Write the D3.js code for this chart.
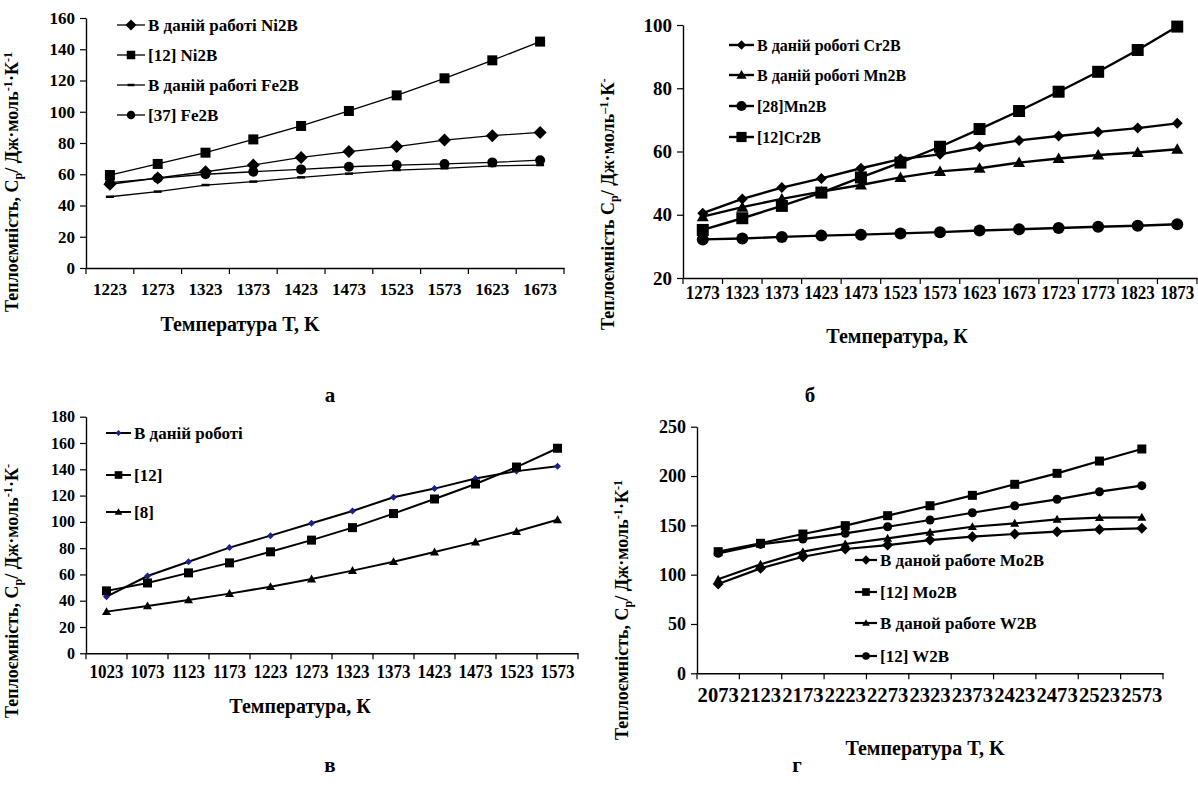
<!DOCTYPE html>
<html>
<head>
<meta charset="utf-8">
<script src="https://cdn.jsdelivr.net/npm/d3@7"></script>
<style>
  body { margin: 0; background: #fff; }
  text { font-family: "Liberation Serif", "Times New Roman", serif; font-weight: bold; fill: #000; }
</style>
</head>
<body>
<svg id="chart" width="1198" height="796"></svg>
<script>
// ---- panel а : Ni2B / Fe2B
const tempA = ["1223","1273","1323","1373","1423","1473","1523","1573","1623","1673"];
const ni2bThisWork = [53.6, 57.6, 61.6, 65.9, 70.8, 74.5, 77.7, 81.9, 84.7, 86.8];
const ni2bRef12    = [59.5, 66.6, 73.8, 82.3, 90.9, 100.5, 110.5, 121.4, 132.9, 144.9];
const fe2bThisWork = [45.6, 48.9, 53.1, 55.3, 58.0, 60.4, 62.7, 63.8, 65.3, 65.9];
const fe2bRef37    = [54.6, 57.4, 60.0, 61.6, 63.1, 64.8, 65.9, 66.6, 67.6, 69.0];
const ticksA = [0, 20, 40, 60, 80, 100, 120, 140, 160];

// ---- panel б : Cr2B / Mn2B
const tempB = ["1273","1323","1373","1423","1473","1523","1573","1623","1673","1723","1773","1823","1873"];
const cr2bThisWork = [40.5, 45.0, 48.6, 51.5, 54.7, 57.6, 59.1, 61.5, 63.5, 64.9, 66.2, 67.4, 68.9];
const mn2bThisWork = [39.4, 42.4, 45.0, 47.3, 49.4, 51.8, 53.7, 54.7, 56.5, 57.8, 58.9, 59.7, 60.7];
const mn2bRef28    = [32.2, 32.5, 33.0, 33.4, 33.7, 34.1, 34.5, 35.0, 35.4, 35.8, 36.2, 36.5, 37.0];
const cr2bRef12    = [35.2, 38.9, 42.8, 47.0, 51.8, 56.5, 61.5, 67.1, 72.8, 78.9, 85.2, 92.1, 99.5];
const ticksB = [20, 40, 60, 80, 100];

// ---- panel в
const tempC = ["1023","1073","1123","1173","1223","1273","1323","1373","1423","1473","1523","1573"];
const cThisWork = [43.1, 58.8, 69.7, 80.4, 89.5, 98.9, 108.3, 118.7, 125.3, 133.0, 138.6, 142.3];
const cRef12    = [47.5, 53.5, 61.2, 68.8, 77.2, 86.1, 95.6, 106.3, 117.4, 128.8, 141.7, 156.0];
const cRef8     = [31.7, 36.0, 40.6, 45.4, 50.7, 56.5, 62.9, 69.7, 77.0, 84.6, 92.6, 101.6];
const ticksC = [0, 20, 40, 60, 80, 100, 120, 140, 160, 180];

// ---- panel г : Mo2B / W2B
const tempD = ["2073","2123","2173","2223","2273","2323","2373","2423","2473","2523","2573"];
const mo2bThisWork = [90.5, 106.4, 118.2, 126.0, 130.0, 135.1, 138.5, 141.2, 143.6, 145.9, 147.0];
const mo2bRef12    = [123.3, 131.8, 141.2, 149.7, 159.8, 169.9, 180.4, 191.6, 202.7, 215.2, 227.4];
const w2bThisWork  = [95.3, 110.5, 123.3, 131.1, 136.8, 142.9, 148.6, 152.0, 156.1, 157.8, 158.1];
const w2bRef12     = [121.6, 130.7, 136.1, 141.9, 148.6, 155.4, 162.8, 169.9, 176.4, 184.1, 190.2];
const ticksD = [0, 50, 100, 150, 200, 250];

const svg = d3.select("#chart");
svg.append("rect").attr("width", 1198).attr("height", 796).attr("fill", "#fff");

// draws one marker of the given type centred on (cx, cy)
function drawMarker(g, type, cx, cy, s, color) {
  if (type === "diamond") {
    g.append("path").attr("d", `M${cx},${cy - s}L${cx + s},${cy}L${cx},${cy + s}L${cx - s},${cy}Z`).attr("fill", color);
  } else if (type === "square") {
    g.append("rect").attr("x", cx - s).attr("y", cy - s).attr("width", 2 * s).attr("height", 2 * s).attr("fill", color);
  } else if (type === "triangle") {
    g.append("path").attr("d", `M${cx},${cy - s}L${cx + s},${cy + s * 0.75}L${cx - s},${cy + s * 0.75}Z`).attr("fill", color);
  } else if (type === "circle") {
    g.append("circle").attr("cx", cx).attr("cy", cy).attr("r", s).attr("fill", color);
  } else if (type === "dash") {
    g.append("line").attr("x1", cx - s).attr("x2", cx + s).attr("y1", cy).attr("y2", cy)
      .attr("stroke", color).attr("stroke-width", 2.5);
  }
}

// rotated y title with sub/superscripts
function yTitle(g, cx, bottom, size, parts) {
  const t = g.append("text")
    .attr("transform", `translate(${cx},${bottom}) rotate(-90)`)
    .attr("dy", "0.35em")
    .style("font-size", size + "px");
  let shift = 0;
  parts.forEach(([str, kind]) => {
    const target = kind === "sub" ? 4 : kind === "sup" ? -6 : 0;
    t.append("tspan")
      .attr("dy", target - shift)
      .style("font-size", kind ? (size * 0.68) + "px" : null)
      .text(str);
    shift = target;
  });
}

function drawPanel(p) {
  const g = svg.append("g");
  const x = d3.scaleBand().domain(p.cats).range([p.x0, p.x1]);
  const y = d3.scaleLinear().domain(p.yDomain).range([p.yBottom, p.yTop]);

  // x axis: labels centred in bands, tick marks at band edges
  const xa = g.append("g").attr("transform", `translate(0,${p.yBottom})`)
    .call(d3.axisBottom(x).tickSize(0).tickPadding(p.xPad));
  xa.select(".domain").attr("stroke", "#000").attr("stroke-width", 1.4);
  xa.selectAll("text").style("font-size", p.xFont + "px")
    .attr("transform", `scale(${p.xScale},1)`);
  const edges = p.cats.map(c => x(c)).concat([p.x1]);
  g.selectAll(null).data(edges).enter().append("line")
    .attr("x1", d => d).attr("x2", d => d)
    .attr("y1", p.yBottom).attr("y2", p.yBottom + 6)
    .attr("stroke", "#000").attr("stroke-width", 1.2);

  // y axis
  const ya = g.append("g").attr("transform", `translate(${p.x0},0)`)
    .call(d3.axisLeft(y).tickValues(p.yTicks).tickSize(6).tickSizeOuter(0).tickPadding(5));
  ya.select(".domain").attr("stroke", "#000").attr("stroke-width", 1.4);
  ya.selectAll("line").attr("stroke", "#000").attr("stroke-width", 1.2);
  ya.selectAll("text").style("font-size", p.yFont + "px");

  // series
  const line = d3.line().x((d, i) => x(p.cats[i]) + x.bandwidth() / 2).y(d => y(d));
  p.series.forEach(s => {
    g.append("path").datum(s.values).attr("d", line)
      .attr("fill", "none").attr("stroke", "#000").attr("stroke-width", p.lineW);
    s.values.forEach((v, i) => drawMarker(g, s.marker, x(p.cats[i]) + x.bandwidth() / 2, y(v), s.size, s.color || "#000"));
  });

  // legend
  p.series.forEach((s, i) => {
    const ly = p.legend.rows[i];
    g.append("line").attr("x1", p.legend.x).attr("x2", p.legend.x + p.legend.len)
      .attr("y1", ly).attr("y2", ly).attr("stroke", "#000").attr("stroke-width", p.lineW);
    drawMarker(g, s.marker, p.legend.x + p.legend.len / 2, ly, s.size * 0.85, s.color || "#000");
    g.append("text").attr("x", p.legend.x + p.legend.len + 3).attr("y", ly).attr("dy", "0.35em")
      .style("font-size", p.legend.font + "px").text(s.name);
  });

  // titles
  g.append("text").attr("x", p.xTitle[0]).attr("y", p.xTitle[1]).attr("dy", "0.35em")
    .attr("text-anchor", "middle").style("font-size", "20px").text(p.xTitleText);
  yTitle(g, p.yTitle[0], p.yTitle[1], 18, p.yTitleParts);
  g.append("text").attr("x", p.letter[0]).attr("y", p.letter[1]).attr("dy", "0.35em")
    .attr("text-anchor", "middle").style("font-size", "21px").text(p.letter[2]);
}

const titleFull = [["Теплоємність, С", null], ["p", "sub"], ["/ Дж·моль", null], ["-1", "sup"], ["·К", null], ["-1", "sup"]];

drawPanel({
  cats: tempA, x0: 86, x1: 564, yTop: 18, yBottom: 268, yDomain: [0, 160], yTicks: ticksA,
  xPad: 15, xFont: 17, xScale: 1, yFont: 17, lineW: 1.3,
  series: [
    { name: "В даній работі Ni2B", values: ni2bThisWork, marker: "diamond", size: 6.5 },
    { name: "[12] Ni2B", values: ni2bRef12, marker: "square", size: 5 },
    { name: "В даній работі Fe2B", values: fe2bThisWork, marker: "dash", size: 4 },
    { name: "[37] Fe2B", values: fe2bRef37, marker: "circle", size: 5 }
  ],
  legend: { x: 117, len: 28, rows: [25, 55, 85, 115], font: 17 },
  xTitle: [240, 324], xTitleText: "Температура T, K",
  yTitle: [18, 312], yTitleParts: titleFull,
  letter: [330, 395, "а"]
});

drawPanel({
  cats: tempB, x0: 683, x1: 1197, yTop: 25, yBottom: 278, yDomain: [20, 100], yTicks: ticksB,
  xPad: 8, xFont: 18, xScale: 0.95, yFont: 19, lineW: 2.4,
  series: [
    { name: "В даній роботі Cr2B", values: cr2bThisWork, marker: "diamond", size: 5.5 },
    { name: "В даній роботі Mn2B", values: mn2bThisWork, marker: "triangle", size: 6 },
    { name: "[28]Mn2B", values: mn2bRef28, marker: "circle", size: 6 },
    { name: "[12]Cr2B", values: cr2bRef12, marker: "square", size: 6 }
  ],
  legend: { x: 729, len: 25, rows: [45, 75, 106, 137], font: 16 },
  xTitle: [897, 336], xTitleText: "Температура, К",
  yTitle: [614, 330], yTitleParts: [["Теплоємність С", null], ["p", "sub"], ["/ Дж·моль", null], ["–1", "sup"], ["·К", null], ["-", "sup"]],
  letter: [810, 395, "б"]
});

drawPanel({
  cats: tempC, x0: 86, x1: 578, yTop: 416.7, yBottom: 653.3, yDomain: [0, 180], yTicks: ticksC,
  xPad: 12, xFont: 18, xScale: 0.95, yFont: 16, lineW: 2,
  series: [
    { name: "В даній роботі", values: cThisWork, marker: "diamond", size: 3.5, color: "#1f1f8f" },
    { name: "[12]", values: cRef12, marker: "square", size: 4.5 },
    { name: "[8]", values: cRef8, marker: "triangle", size: 4.5 }
  ],
  legend: { x: 106, len: 25, rows: [433, 475, 512], font: 17 },
  xTitle: [300, 706], xTitleText: "Температура, К",
  yTitle: [18, 718], yTitleParts: [["Теплоємність, С", null], ["p", "sub"], ["/ Дж·моль", null], ["-1", "sup"], ["·К", null], ["-", "sup"]],
  letter: [330, 765, "в"]
});

drawPanel({
  cats: tempD, x0: 697, x1: 1163, yTop: 426.7, yBottom: 673.3, yDomain: [0, 250], yTicks: ticksD,
  xPad: 14, xFont: 21, xScale: 0.98, yFont: 18, lineW: 2.2,
  series: [
    { name: "В даной работе Mo2B", values: mo2bThisWork, marker: "diamond", size: 5.5 },
    { name: "[12] Mo2B", values: mo2bRef12, marker: "square", size: 4.5 },
    { name: "В даной работе W2B", values: w2bThisWork, marker: "triangle", size: 4.5 },
    { name: "[12]  W2B", values: w2bRef12, marker: "circle", size: 4.5 }
  ],
  legend: { x: 855, len: 22, rows: [560, 592, 623, 656], font: 17 },
  xTitle: [925, 748], xTitleText: "Температура T, K",
  yTitle: [628, 740], yTitleParts: titleFull,
  letter: [797, 765, "г"]
});
</script>
</body>
</html>
